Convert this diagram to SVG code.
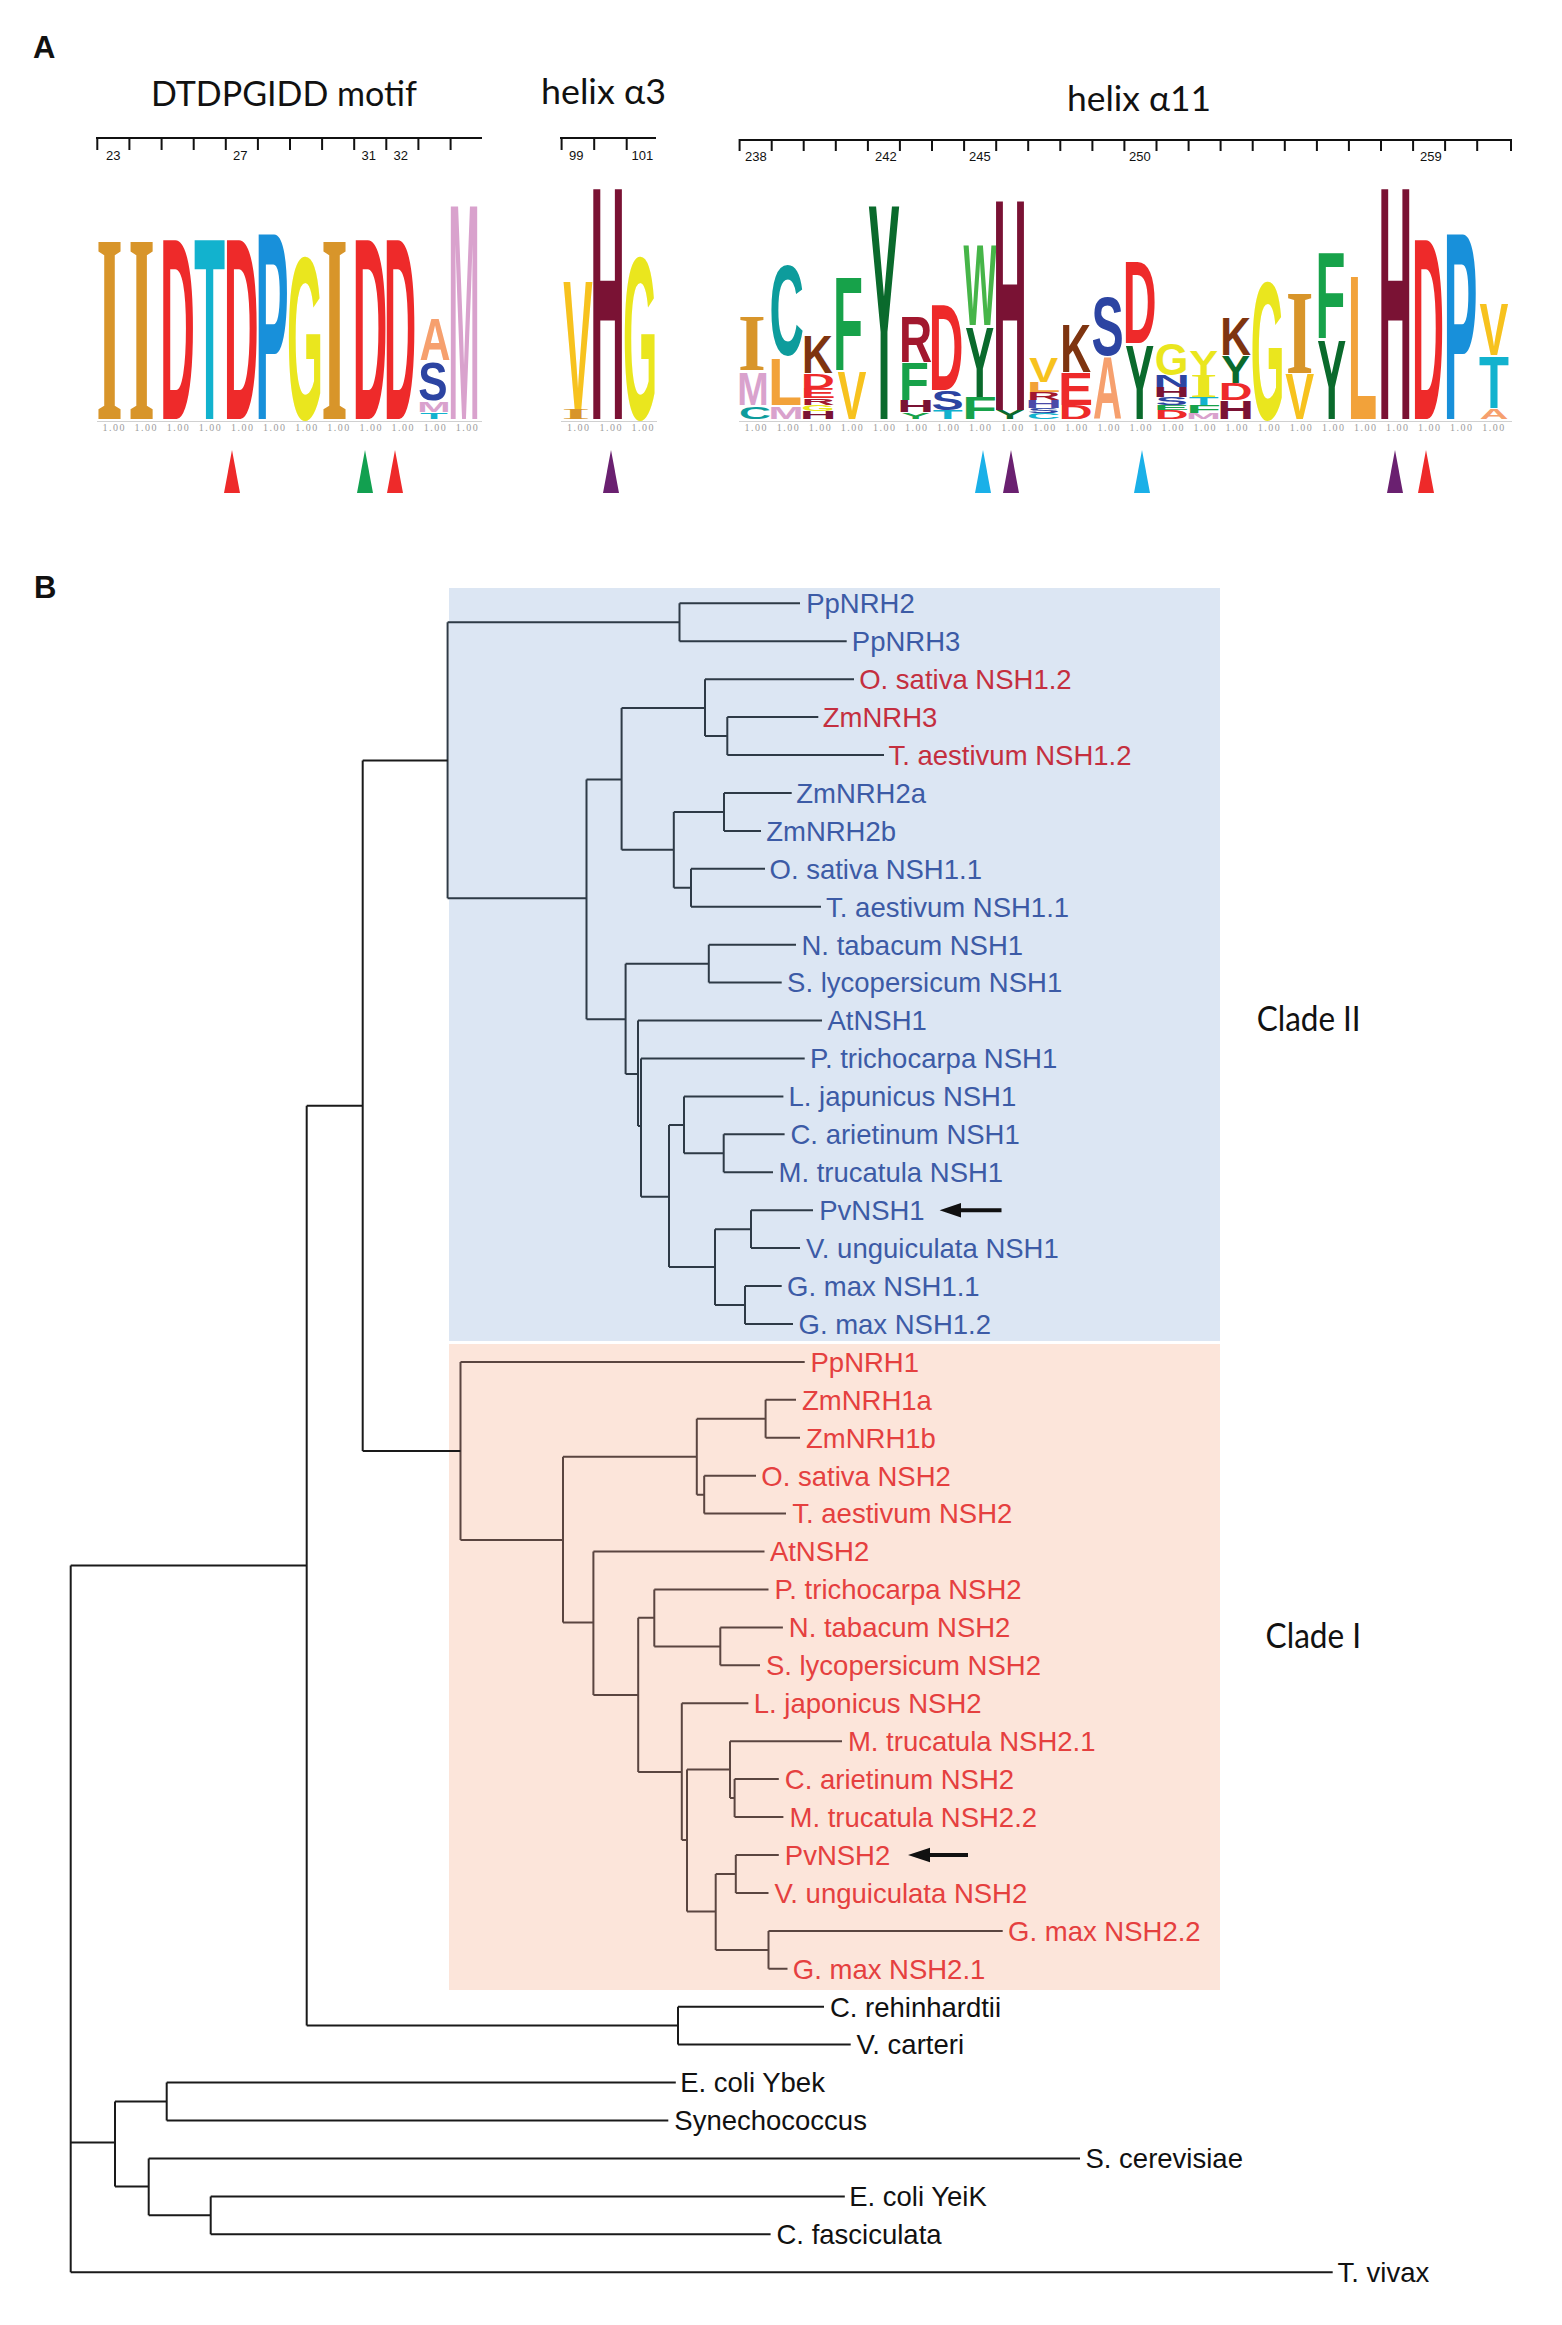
<svg xmlns="http://www.w3.org/2000/svg" width="1562" height="2325" viewBox="0 0 1562 2325">
<style>
.s{font-family:"Liberation Sans",Arial,sans-serif;font-weight:bold;font-size:100px;text-anchor:middle}
.r{font-family:"Liberation Serif","Times New Roman",serif;font-weight:bold;font-size:100px;text-anchor:middle}
.gd{fill:#D8952A}.rd{fill:#EE2A2A}.cy{fill:#12B2CE}.bl{fill:#1890DA}.ye{fill:#EAE61E}.sa{fill:#F6A06E}
.db{fill:#2C44A2}.pk{fill:#D9A2CD}.tl{fill:#0D9C9C}.br{fill:#7E3410}.gr{fill:#17A24A}.dg{fill:#0A6A2C}
.mr{fill:#7A1234}.dr{fill:#A2182E}.lg{fill:#46B548}.yv{fill:#F7C21E}.or{fill:#F2A23A}.pb{fill:#4A4AA8}
.pl{font-family:"Liberation Sans",Arial,sans-serif;font-weight:bold;font-size:31px;fill:#111}
.ttl{font-family:Lato,"Open Sans",sans-serif;font-size:35px;fill:#111}
.tk{font-family:"Liberation Sans",Arial,sans-serif;font-size:13px;fill:#111}
.n{font-family:"Liberation Serif",serif;font-size:10px;fill:#9C9C9C;text-anchor:middle}
.ax{fill:none;stroke:#111;stroke-width:2}
.t{font-family:"Liberation Sans",Arial,sans-serif;font-size:27.5px}
.b{fill:#3C5BA6}.cr{fill:#C42F3F}.rr{fill:#E5403F}.k{fill:#111}
.c2{fill:none;stroke:#2E3A46;stroke-width:2}
.c1{fill:none;stroke:#5A4540;stroke-width:2}
.c0{fill:none;stroke:#1A1A1A;stroke-width:2}
.cl{font-family:Lato,"Open Sans",sans-serif;font-size:34px;fill:#111}
</style>
<rect width="1562" height="2325" fill="#fff"/>

<g id="panelA">
<text class="pl" x="33" y="58">A</text>
<text class="ttl" x="151" y="106" textLength="266" lengthAdjust="spacingAndGlyphs">DTDPGIDD motif</text>
<text class="ttl" x="541" y="104" textLength="125" lengthAdjust="spacingAndGlyphs">helix α3</text>
<text class="ttl" x="1067" y="111" textLength="144" lengthAdjust="spacingAndGlyphs">helix α11</text>

<g id="ruler1">
<path class="ax" d="M96 138H482M97.3 137V150M129.4 137V150M161.6 137V150M193.7 137V150M225.8 137V150M257.9 137V150M290 137V150M322.1 137V150M354.2 137V150M386.3 137V150M418.4 137V150M450.6 137V150"/>
<text class="tk" x="106" y="160">23</text><text class="tk" x="233" y="160">27</text><text class="tk" x="361.5" y="160">31</text><text class="tk" x="393.5" y="160">32</text>
</g>
<g id="ruler2">
<path class="ax" d="M560 138H656M561.6 137V150M594.2 137V150M626.7 137V150"/>
<text class="tk" x="569" y="160">99</text><text class="tk" x="631.5" y="160">101</text>
</g>
<g id="ruler3">
<path class="ax" d="M739 140H1512M739.6 139V151M771.7 139V151M803.7 139V151M835.8 139V151M867.9 139V151M899.9 139V151M932 139V151M964.1 139V151M996.2 139V151M1028.2 139V151M1060.3 139V151M1092.4 139V151M1124.4 139V151M1156.5 139V151M1188.6 139V151M1220.6 139V151M1252.7 139V151M1284.8 139V151M1316.9 139V151M1348.9 139V151M1381 139V151M1413.1 139V151M1445.1 139V151M1477.2 139V151M1511 139V151"/>
<text class="tk" x="745" y="161">238</text><text class="tk" x="875" y="161">242</text><text class="tk" x="969" y="161">245</text><text class="tk" x="1129" y="161">250</text><text class="tk" x="1420" y="161">259</text>
</g>

<g id="logo1">
<text class="r gd" transform="translate(109.5,419) scale(0.686,2.704)">I</text>
<text class="r gd" transform="translate(141.6,419) scale(0.686,2.704)">I</text>
<text class="s rd" transform="translate(177.5,419) scale(0.484,2.598)">D</text>
<text class="s cy" transform="translate(209.6,419) scale(0.508,2.598)">T</text>
<text class="s rd" transform="translate(241.2,419) scale(0.484,2.598)">D</text>
<text class="s bl" transform="translate(272,419) scale(0.5,2.682)">P</text>
<text class="s ye" transform="translate(305,419) scale(0.463,2.318)">G</text>
<text class="r gd" transform="translate(334.5,419) scale(0.686,2.704)">I</text>
<text class="s rd" transform="translate(370,419) scale(0.484,2.598)">D</text>
<text class="s rd" transform="translate(400,419) scale(0.45,2.598)">D</text>
<text class="s sa" transform="translate(435,360) scale(0.43,0.6)">A</text>
<text class="s db" transform="translate(433,400) scale(0.44,0.531)">S</text>
<text class="s pk" transform="translate(434,412) scale(0.4,0.14)">M</text>
<text class="s cy" transform="translate(434,419) scale(0.45,0.084)">T</text>
<text class="s pk" transform="translate(464,419) scale(0.377,3.087)">M</text>
</g>
<g id="logo2">
<text class="s yv" transform="translate(578,410) scale(0.44,1.858)">V</text>
<text class="r gd" transform="translate(576,419) scale(0.74,0.136)">I</text>
<text class="s mr" transform="translate(607.6,419) scale(0.486,3.338)">H</text>
<text class="s ye" transform="translate(640,419) scale(0.44,2.318)">G</text>
</g>
<g id="logo3">
<text class="r gd" transform="translate(752,370) scale(0.714,0.801)">I</text>
<text class="s pk" transform="translate(753,405) scale(0.377,0.461)">M</text>
<text class="s tl" transform="translate(755,419) scale(0.444,0.168)">C</text>
<text class="s tl" transform="translate(786.6,355) scale(0.476,1.285)">C</text>
<text class="s or" transform="translate(785,405) scale(0.558,0.67)">L</text>
<text class="s pk" transform="translate(786,419) scale(0.42,0.168)">M</text>
<text class="s br" transform="translate(817.5,373) scale(0.426,0.531)">K</text>
<text class="s rd" transform="translate(818,388) scale(0.468,0.196)">D</text>
<text class="s rd" transform="translate(818,398) scale(0.527,0.14)">E</text>
<text class="s dr" transform="translate(818,405) scale(0.46,0.098)">R</text>
<text class="s ye" transform="translate(818,411) scale(0.433,0.084)">G</text>
<text class="s mr" transform="translate(818,419) scale(0.509,0.112)">H</text>
<text class="s gr" transform="translate(848,370) scale(0.49,1.327)">F</text>
<text class="s yv" transform="translate(852,419) scale(0.433,0.684)">V</text>
<text class="s dg" transform="translate(884,419) scale(0.478,3.087)">Y</text>
<text class="s dr" transform="translate(915.6,362) scale(0.46,0.656)">R</text>
<text class="s gr" transform="translate(914,400) scale(0.49,0.531)">F</text>
<text class="s mr" transform="translate(915.6,412) scale(0.509,0.168)">H</text>
<text class="s gr" transform="translate(915.6,419) scale(0.433,0.098)">Y</text>
<text class="s rd" transform="translate(946,390) scale(0.48,1.229)">D</text>
<text class="s db" transform="translate(947.6,410) scale(0.483,0.279)">S</text>
<text class="s cy" transform="translate(947.6,419) scale(0.49,0.126)">T</text>
<text class="s lg" transform="translate(980,325) scale(0.35,1.159)">W</text>
<text class="s dg" transform="translate(979.6,397) scale(0.433,1.006)">Y</text>
<text class="s gr" transform="translate(979.6,419) scale(0.569,0.307)">F</text>
<text class="s mr" transform="translate(1010,410) scale(0.474,3.031)">H</text>
<text class="s dg" transform="translate(1010,419) scale(0.433,0.126)">Y</text>
<text class="s yv" transform="translate(1043.6,382) scale(0.433,0.349)">V</text>
<text class="s or" transform="translate(1043.6,392) scale(0.558,0.14)">L</text>
<text class="s dr" transform="translate(1043.6,400) scale(0.46,0.112)">R</text>
<text class="s pb" transform="translate(1043.6,408) scale(0.509,0.112)">H</text>
<text class="s db" transform="translate(1043.6,413) scale(0.483,0.07)">S</text>
<text class="s cy" transform="translate(1043.6,419) scale(0.46,0.084)">C</text>
<text class="s br" transform="translate(1075.6,372) scale(0.426,0.684)">K</text>
<text class="s rd" transform="translate(1075.6,405) scale(0.527,0.461)">E</text>
<text class="s rd" transform="translate(1075.6,419) scale(0.468,0.196)">D</text>
<text class="s db" transform="translate(1107.6,355) scale(0.483,0.838)">S</text>
<text class="s sa" transform="translate(1107.6,419) scale(0.403,0.894)">A</text>
<text class="s rd" transform="translate(1139.6,343) scale(0.468,1.159)">D</text>
<text class="s dg" transform="translate(1139.6,419) scale(0.433,1.061)">Y</text>
<text class="s ye" transform="translate(1171.6,375) scale(0.433,0.447)">G</text>
<text class="s db" transform="translate(1171.6,387) scale(0.509,0.168)">N</text>
<text class="s mr" transform="translate(1171.6,397) scale(0.509,0.14)">H</text>
<text class="s db" transform="translate(1171.6,405) scale(0.483,0.112)">S</text>
<text class="s gr" transform="translate(1171.6,410) scale(0.527,0.07)">E</text>
<text class="s rd" transform="translate(1171.6,419) scale(0.468,0.126)">D</text>
<text class="s ye" transform="translate(1203.6,375) scale(0.433,0.349)">Y</text>
<text class="r ye" transform="translate(1203.6,397) scale(0.714,0.332)">I</text>
<text class="s cy" transform="translate(1203.6,405) scale(0.49,0.112)">T</text>
<text class="s gr" transform="translate(1203.6,413) scale(0.569,0.112)">F</text>
<text class="s pk" transform="translate(1203.6,419) scale(0.42,0.084)">M</text>
<text class="s br" transform="translate(1235.6,355) scale(0.426,0.531)">K</text>
<text class="s dg" transform="translate(1235.6,383) scale(0.433,0.391)">Y</text>
<text class="s rd" transform="translate(1235.6,400) scale(0.468,0.237)">D</text>
<text class="s mr" transform="translate(1235.6,419) scale(0.509,0.265)">H</text>
<text class="s ye" transform="translate(1267.6,419) scale(0.433,1.969)">G</text>
<text class="r gd" transform="translate(1299.6,373) scale(0.714,1.208)">I</text>
<text class="s yv" transform="translate(1299.6,419) scale(0.433,0.642)">V</text>
<text class="s gr" transform="translate(1330.5,338) scale(0.49,1.229)">F</text>
<text class="s dg" transform="translate(1331.6,419) scale(0.433,1.131)">Y</text>
<text class="s or" transform="translate(1362.5,419) scale(0.48,2.053)">L</text>
<text class="s mr" transform="translate(1395.3,419) scale(0.474,3.338)">H</text>
<text class="s rd" transform="translate(1428,419) scale(0.444,2.598)">D</text>
<text class="s bl" transform="translate(1460.5,419) scale(0.509,2.682)">P</text>
<text class="s yv" transform="translate(1494,355) scale(0.433,0.74)">V</text>
<text class="s cy" transform="translate(1494,408) scale(0.49,0.74)">T</text>
<text class="s sa" transform="translate(1494,419) scale(0.403,0.154)">A</text>
</g>
<g id="baselines">
<path d="M97 421.5H482M561 421.5H657M739 421.5H1512" stroke="#D0D0D0" stroke-width="1"/>
<g class="n">
<text x="113.4" y="431" textLength="22">1.00</text><text x="145.5" y="431" textLength="22">1.00</text><text x="177.7" y="431" textLength="22">1.00</text><text x="209.8" y="431" textLength="22">1.00</text><text x="241.9" y="431" textLength="22">1.00</text><text x="274" y="431" textLength="22">1.00</text><text x="306.2" y="431" textLength="22">1.00</text><text x="338.3" y="431" textLength="22">1.00</text><text x="370.4" y="431" textLength="22">1.00</text><text x="402.5" y="431" textLength="22">1.00</text><text x="434.7" y="431" textLength="22">1.00</text><text x="466.8" y="431" textLength="22">1.00</text>
<text x="578" y="431" textLength="22">1.00</text><text x="610.4" y="431" textLength="22">1.00</text><text x="642.5" y="431" textLength="22">1.00</text>
<text x="755.6" y="431" textLength="22">1.00</text><text x="787.7" y="431" textLength="22">1.00</text><text x="819.7" y="431" textLength="22">1.00</text><text x="851.8" y="431" textLength="22">1.00</text><text x="883.9" y="431" textLength="22">1.00</text><text x="915.9" y="431" textLength="22">1.00</text><text x="948" y="431" textLength="22">1.00</text><text x="980.1" y="431" textLength="22">1.00</text><text x="1012.2" y="431" textLength="22">1.00</text><text x="1044.2" y="431" textLength="22">1.00</text><text x="1076.3" y="431" textLength="22">1.00</text><text x="1108.4" y="431" textLength="22">1.00</text><text x="1140.4" y="431" textLength="22">1.00</text><text x="1172.5" y="431" textLength="22">1.00</text><text x="1204.6" y="431" textLength="22">1.00</text><text x="1236.6" y="431" textLength="22">1.00</text><text x="1268.7" y="431" textLength="22">1.00</text><text x="1300.8" y="431" textLength="22">1.00</text><text x="1332.9" y="431" textLength="22">1.00</text><text x="1364.9" y="431" textLength="22">1.00</text><text x="1397" y="431" textLength="22">1.00</text><text x="1429.1" y="431" textLength="22">1.00</text><text x="1461.1" y="431" textLength="22">1.00</text><text x="1493.2" y="431" textLength="22">1.00</text>
</g>
</g>
<g id="markers">
<polygon points="224,493 240,493 232,450" fill="#EE2A2A"/>
<polygon points="357,493 373,493 365,450" fill="#12A050"/>
<polygon points="387,493 403,493 395,450" fill="#EE2A2A"/>
<polygon points="603,493 619,493 611,450" fill="#6A2070"/>
<polygon points="975,493 991,493 983,450" fill="#1AB0E8"/>
<polygon points="1003,493 1019,493 1011,450" fill="#6A2070"/>
<polygon points="1134,493 1150,493 1142,450" fill="#1AB0E8"/>
<polygon points="1387,493 1403,493 1395,450" fill="#6A2070"/>
<polygon points="1418,493 1434,493 1426,450" fill="#EE2A2A"/>
</g>
</g>

<g id="panelB">
<text class="pl" x="34" y="598">B</text>
<rect id="clade2-box" x="449" y="588" width="771" height="753" fill="#DCE6F3"/>
<rect id="clade1-box" x="449" y="1344" width="771" height="646" fill="#FCE5DA"/>
<g id="clade2-label"><text class="cl" x="1256.7" y="1030.7" textLength="104" lengthAdjust="spacingAndGlyphs">Clade II</text></g>
<g id="clade1-label"><text class="cl" x="1265.6" y="1648" textLength="95.5" lengthAdjust="spacingAndGlyphs">Clade I</text></g>

<g id="connectors">
<path class="c2" d="M447.6 622.3V898.3M447.6 622.3H679.5M679.5 603.3V641.2M679.5 603.3H800M679.5 641.2H846.7
M447.6 898.3H586.5M586.5 779.4V1019.2M586.5 779.4H621.6M621.6 708V849.8
M621.6 708H705M705 679.2V736M705 679.2H854M705 736H727.3M727.3 717.1V755M727.3 717.1H818.3M727.3 755H884
M621.6 849.8H673.8M673.8 812V887.8M673.8 812H724M724 793V830.9M724 793H791.7M724 830.9H761
M673.8 887.8H691M691 868.8V906.7M691 868.8H765M691 906.7H821
M586.5 1019.2H625.6M625.6 963.7V1074M625.6 963.7H708.8M708.8 944.7V982.6M708.8 944.7H796M708.8 982.6H781.7
M625.6 1074H638M638 1020.5V1126M638 1020.5H822M638 1126H641M641 1058.5V1196.7M641 1058.5H804.7
M641 1196.7H669M669 1125V1267.1M669 1125H684M684 1096.4V1153.3M684 1096.4H783.4
M684 1153.3H723.7M723.7 1134.3V1172.3M723.7 1134.3H784.6M723.7 1172.3H773
M669 1267.1H715M715 1229.2V1305M715 1229.2H751M751 1210.2V1248.1M751 1210.2H813M751 1248.1H800
M715 1305H745M745 1286V1324M745 1286H781.7M745 1324H793"/>
<path class="c1" d="M460.5 1361.9V1540M460.5 1361.9H804.7M460.5 1540H563M563 1456.7V1622.6
M563 1456.7H696.8M696.8 1418.8V1494.7M696.8 1418.8H765.6M765.6 1399.8V1437.8M765.6 1399.8H796M765.6 1437.8H800
M696.8 1494.7H704.2M704.2 1475.7V1513.6M704.2 1475.7H756M704.2 1513.6H786
M563 1622.6H593.4M593.4 1551.6V1695M593.4 1551.6H764.5M593.4 1695H638.2M638.2 1617.7V1772
M638.2 1617.7H654.3M654.3 1589.5V1646.4M654.3 1589.5H768.5M654.3 1646.4H720.3M720.3 1627.4V1665.3M720.3 1627.4H782.9M720.3 1665.3H760
M638.2 1772H681.8M681.8 1703.3V1840M681.8 1703.3H748.4M681.8 1840H687M687 1769.4V1911.4
M687 1769.4H730M730 1741.2V1798.1M730 1741.2H842M730 1798.1H734.6M734.6 1779.1V1817.1M734.6 1779.1H778.8M734.6 1817.1H783.4
M687 1911.4H715.7M715.7 1874V1949.9M715.7 1874H735.8M735.8 1855V1892.9M735.8 1855H778.8M735.8 1892.9H768.5
M715.7 1949.9H768.5M768.5 1930.9V1968.8M768.5 1930.9H1002.7M768.5 1968.8H787.5"/>
<path class="c0" d="M362.7 760.5H447.6M362.7 760.5V1451M362.7 1451H460.5
M306.7 1105.8H362.7M306.7 1105.8V2025.5M306.7 2025.5H678M678 2006.7V2044.6M678 2006.7H824M678 2044.6H850.7
M70.7 1565.6H306.7M70.7 1565.6V2272.2M70.7 2272.2H1332.7
M70.7 2142.6H115M115 2101.5V2186.5M115 2101.5H166.7M166.7 2082.6V2120.5M166.7 2082.6H675.8M166.7 2120.5H668.3
M115 2186.5H148.7M148.7 2158.4V2215.3M148.7 2158.4H1080M148.7 2215.3H210.7M210.7 2196.4V2234.3M210.7 2196.4H844.8M210.7 2234.3H770.6"/>
</g>

<g id="pointers" fill="#111">
<path d="M939.6 1210.2L961 1203V1208.2H1001.5V1212.2H961V1217.4Z"/>
<path d="M908 1855L930 1847.8V1853H968V1857H930V1862.2Z"/>
</g>

<g id="leaf-PpNRH2"><text class="t b" x="806.2" y="613.1">PpNRH2</text></g>
<g id="leaf-PpNRH3"><text class="t b" x="851.8" y="651">PpNRH3</text></g>
<g id="leaf-OsNSH1.2"><text class="t cr" x="859.2" y="689">O. sativa NSH1.2</text></g>
<g id="leaf-ZmNRH3"><text class="t cr" x="822.8" y="726.9">ZmNRH3</text></g>
<g id="leaf-TaNSH1.2"><text class="t cr" x="888.5" y="764.8">T. aestivum NSH1.2</text></g>
<g id="leaf-ZmNRH2a"><text class="t b" x="796.2" y="802.8">ZmNRH2a</text></g>
<g id="leaf-ZmNRH2b"><text class="t b" x="766.2" y="840.7">ZmNRH2b</text></g>
<g id="leaf-OsNSH1.1"><text class="t b" x="769.5" y="878.6">O. sativa NSH1.1</text></g>
<g id="leaf-TaNSH1.1"><text class="t b" x="826.1" y="916.5">T. aestivum NSH1.1</text></g>
<g id="leaf-NtNSH1"><text class="t b" x="801.5" y="954.5">N. tabacum NSH1</text></g>
<g id="leaf-SlNSH1"><text class="t b" x="787.1" y="992.4">S. lycopersicum NSH1</text></g>
<g id="leaf-AtNSH1"><text class="t b" x="827.5" y="1030.3">AtNSH1</text></g>
<g id="leaf-PtNSH1"><text class="t b" x="810.1" y="1068.3">P. trichocarpa NSH1</text></g>
<g id="leaf-LjNSH1"><text class="t b" x="788.5" y="1106.2">L. japunicus NSH1</text></g>
<g id="leaf-CaNSH1"><text class="t b" x="790.5" y="1144.1">C. arietinum NSH1</text></g>
<g id="leaf-MtNSH1"><text class="t b" x="778.5" y="1182.1">M. trucatula NSH1</text></g>
<g id="leaf-PvNSH1"><text class="t b" x="819.2" y="1220">PvNSH1</text></g>
<g id="leaf-VuNSH1"><text class="t b" x="806" y="1257.9">V. unguiculata NSH1</text></g>
<g id="leaf-GmNSH1.1"><text class="t b" x="787.1" y="1295.8">G. max NSH1.1</text></g>
<g id="leaf-GmNSH1.2"><text class="t b" x="798.5" y="1333.8">G. max NSH1.2</text></g>
<g id="leaf-PpNRH1"><text class="t rr" x="810.5" y="1371.7">PpNRH1</text></g>
<g id="leaf-ZmNRH1a"><text class="t rr" x="802" y="1409.6">ZmNRH1a</text></g>
<g id="leaf-ZmNRH1b"><text class="t rr" x="806" y="1447.6">ZmNRH1b</text></g>
<g id="leaf-OsNSH2"><text class="t rr" x="761.3" y="1485.5">O. sativa NSH2</text></g>
<g id="leaf-TaNSH2"><text class="t rr" x="792.3" y="1523.4">T. aestivum NSH2</text></g>
<g id="leaf-AtNSH2"><text class="t rr" x="769.9" y="1561.4">AtNSH2</text></g>
<g id="leaf-PtNSH2"><text class="t rr" x="774.5" y="1599.3">P. trichocarpa NSH2</text></g>
<g id="leaf-NtNSH2"><text class="t rr" x="788.8" y="1637.2">N. tabacum NSH2</text></g>
<g id="leaf-SlNSH2"><text class="t rr" x="765.9" y="1675.1">S. lycopersicum NSH2</text></g>
<g id="leaf-LjNSH2"><text class="t rr" x="753.8" y="1713.1">L. japonicus NSH2</text></g>
<g id="leaf-MtNSH2.1"><text class="t rr" x="847.9" y="1751">M. trucatula NSH2.1</text></g>
<g id="leaf-CaNSH2"><text class="t rr" x="784.8" y="1788.9">C. arietinum NSH2</text></g>
<g id="leaf-MtNSH2.2"><text class="t rr" x="789.5" y="1826.9">M. trucatula NSH2.2</text></g>
<g id="leaf-PvNSH2"><text class="t rr" x="784.8" y="1864.8">PvNSH2</text></g>
<g id="leaf-VuNSH2"><text class="t rr" x="774.5" y="1902.7">V. unguiculata NSH2</text></g>
<g id="leaf-GmNSH2.2"><text class="t rr" x="1008.1" y="1940.7">G. max NSH2.2</text></g>
<g id="leaf-GmNSH2.1"><text class="t rr" x="792.8" y="1978.6">G. max NSH2.1</text></g>
<g id="leaf-Crein"><text class="t k" x="829.9" y="2016.5">C. rehinhardtii</text></g>
<g id="leaf-Vcarteri"><text class="t k" x="856.5" y="2054.4">V. carteri</text></g>
<g id="leaf-EcYbek"><text class="t k" x="680.2" y="2092.4">E. coli Ybek</text></g>
<g id="leaf-Synecho"><text class="t k" x="674.3" y="2130.3">Synechococcus</text></g>
<g id="leaf-Scerev"><text class="t k" x="1085.5" y="2168.2">S. cerevisiae</text></g>
<g id="leaf-EcYeiK"><text class="t k" x="849.2" y="2206.2">E. coli YeiK</text></g>
<g id="leaf-Cfasc"><text class="t k" x="776.5" y="2244.1">C. fasciculata</text></g>
<g id="leaf-Tvivax"><text class="t k" x="1337.5" y="2282">T. vivax</text></g>
</g>
</svg>
